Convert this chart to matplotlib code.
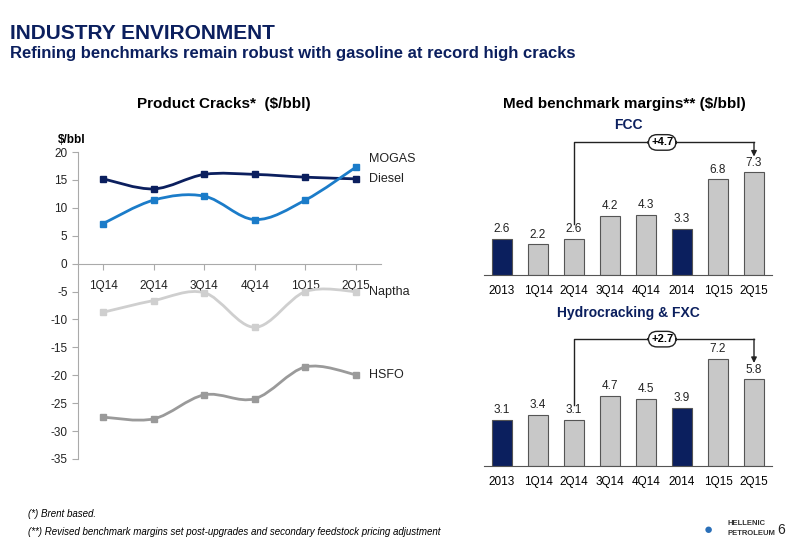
import matplotlib
matplotlib.use("Agg")
import matplotlib.pyplot as plt
from matplotlib.path import Path
from matplotlib.patches import PathPatch
import numpy as np

plt.rcParams['font.family'] = ['Liberation Sans', 'DejaVu Sans']
plt.rcParams['axes.unicode_minus'] = False

quarters = ["1Q14", "2Q14", "3Q14", "4Q14", "1Q15", "2Q15"]
diesel = [15.2, 13.4, 16.0, 16.0, 15.5, 15.2]
mogas = [7.2, 11.4, 12.1, 7.9, 11.4, 17.3]
naptha = [-8.7, -6.6, -5.2, -11.4, -5.0, -5.0]
hsfo = [-27.5, -27.8, -23.5, -24.2, -18.5, -19.9]

bar_cats = ["2013", "1Q14", "2Q14", "3Q14", "4Q14", "2014", "1Q15", "2Q15"]
fcc = [2.6, 2.2, 2.6, 4.2, 4.3, 3.3, 6.8, 7.3]
hydro = [3.1, 3.4, 3.1, 4.7, 4.5, 3.9, 7.2, 5.8]
annual = [True, False, False, False, False, True, False, False]

NAVY = "#0b1f5e"
fig = plt.figure(figsize=(8, 5.54), dpi=100)

def smooth(ax, xs, ys, color):
    xs = np.asarray(xs, float); ys = np.asarray(ys, float)
    verts = [(xs[0], ys[0])]; codes = [Path.MOVETO]
    n = len(xs)
    for i in range(n - 1):
        p0 = np.array([xs[max(i-1, 0)], ys[max(i-1, 0)]])
        p1 = np.array([xs[i], ys[i]]); p2 = np.array([xs[i+1], ys[i+1]])
        p3 = np.array([xs[min(i+2, n-1)], ys[min(i+2, n-1)]])
        c1 = p1 + (p2 - p0) / 6; c2 = p2 - (p3 - p1) / 6
        verts += [tuple(c1), tuple(c2), tuple(p2)]
        codes += [Path.CURVE4] * 3
    ax.add_patch(PathPatch(Path(verts, codes), fill=False, ec=color, lw=2, zorder=2))
    ax.plot(xs, ys, 's', color=color, ms=5, zorder=3)

# Left chart
ax = fig.add_axes([0.0975, 0.1715, 0.379, 0.554])
x = np.arange(len(quarters))
for ser, col in [(diesel, NAVY), (mogas, "#1b7cc9"), (naptha, "#cfcfcf"), (hsfo, "#9a9a9a")]:
    smooth(ax, x, ser, col)
ax.set_xlim(-0.5, 5.5); ax.set_ylim(-35, 20)
ax.set_yticks(range(-35, 21, 5))
ax.set_xticks(x); ax.set_xticklabels(quarters)
for s in ["top", "right"]:
    ax.spines[s].set_visible(False)
ax.spines["bottom"].set_position(("data", 0))
for s in ["left", "bottom"]:
    ax.spines[s].set_color("#aaaaaa")
ax.tick_params(axis='both', colors="#aaaaaa", labelcolor="#222222", labelsize=8.5, length=4)
ax.tick_params(axis='x', direction='out', pad=8)
for lab, yv in [("MOGAS", 18.8), ("Diesel", 15.2), ("Naptha", -5.0), ("HSFO", -19.9)]:
    ax.text(5.25, yv, lab, fontsize=9, va='center', color="#222222")
ax.text(-0.02, 1.03, "$/bbl", transform=ax.transAxes, fontsize=8.5, fontweight='bold', ha='center')

def bars(rect, vals, ylim, delta, bracket_y):
    bx = fig.add_axes(rect)
    xi = np.arange(len(bar_cats))
    cols = [NAVY if a else "#c8c8c8" for a in annual]
    bx.bar(xi, vals, width=0.58, color=cols, edgecolor="#555555", linewidth=0.8)
    for xx, v in zip(xi, vals):
        bx.text(xx, v + 0.25, f"{v:.1f}", ha='center', va='bottom', fontsize=8.5, color="#222222")
    bx.set_xlim(-0.5, 7.5); bx.set_ylim(*ylim)
    bx.set_xticks(xi); bx.set_xticklabels(bar_cats, fontsize=8.5)
    bx.tick_params(axis='x', length=0, pad=7); bx.set_yticks([])
    for s in ["top", "right", "left"]:
        bx.spines[s].set_visible(False)
    bx.spines["bottom"].set_color("#555555")
    bx.plot([2, 2, 7], [vals[2] + 1.0, bracket_y, bracket_y], color="#222222", lw=1)
    bx.annotate("", xy=(7, vals[7] + 1.1), xytext=(7, bracket_y),
                arrowprops=dict(arrowstyle='-|>', color="#222222", lw=1, mutation_scale=8, shrinkA=0, shrinkB=0))
    bx.text(4.45, bracket_y, delta, ha='center', va='center', fontsize=8, fontweight='bold',
            bbox=dict(boxstyle='round,pad=0.25,rounding_size=0.8', fc='white', ec='#222222', lw=1))
    return bx

bars([0.605, 0.503, 0.36, 0.245], fcc, (0, 9.6), "+4.7", 9.4)
bars([0.605, 0.159, 0.36, 0.245], hydro, (0, 9.1), "+2.7", 8.5)

fig.text(0.785, 0.768, "FCC", ha='center', fontsize=10, fontweight='bold', color=NAVY)
fig.text(0.785, 0.427, "Hydrocracking & FXC", ha='center', fontsize=10, fontweight='bold', color=NAVY)
fig.text(0.78, 0.805, "Med benchmark margins** ($/bbl)", ha='center', fontsize=11, fontweight='bold')
fig.text(0.28, 0.805, "Product Cracks*  ($/bbl)", ha='center', fontsize=11, fontweight='bold')

fig.text(0.0125, 0.93, "INDUSTRY ENVIRONMENT", fontsize=15, fontweight='bold', color=NAVY)
fig.text(0.0125, 0.895, "Refining benchmarks remain robust with gasoline at record high cracks",
         fontsize=12, fontweight='bold', color=NAVY)
fig.text(0.035, 0.067, "(*) Brent based.", fontsize=7, style='italic')
fig.text(0.035, 0.035, "(**) Revised benchmark margins set post-upgrades and secondary feedstock pricing adjustment",
         fontsize=7, style='italic')
fig.text(0.91, 0.052, "HELLENIC", fontsize=5.5, fontweight='bold', color="#333333")
fig.text(0.91, 0.035, "PETROLEUM", fontsize=5.5, fontweight='bold', color="#333333")
fig.text(0.88, 0.036, "●", fontsize=11, color="#2a6fb8")
fig.text(0.972, 0.037, "6", fontsize=10, color="#222222")

fig.savefig("out.png", dpi=100)
